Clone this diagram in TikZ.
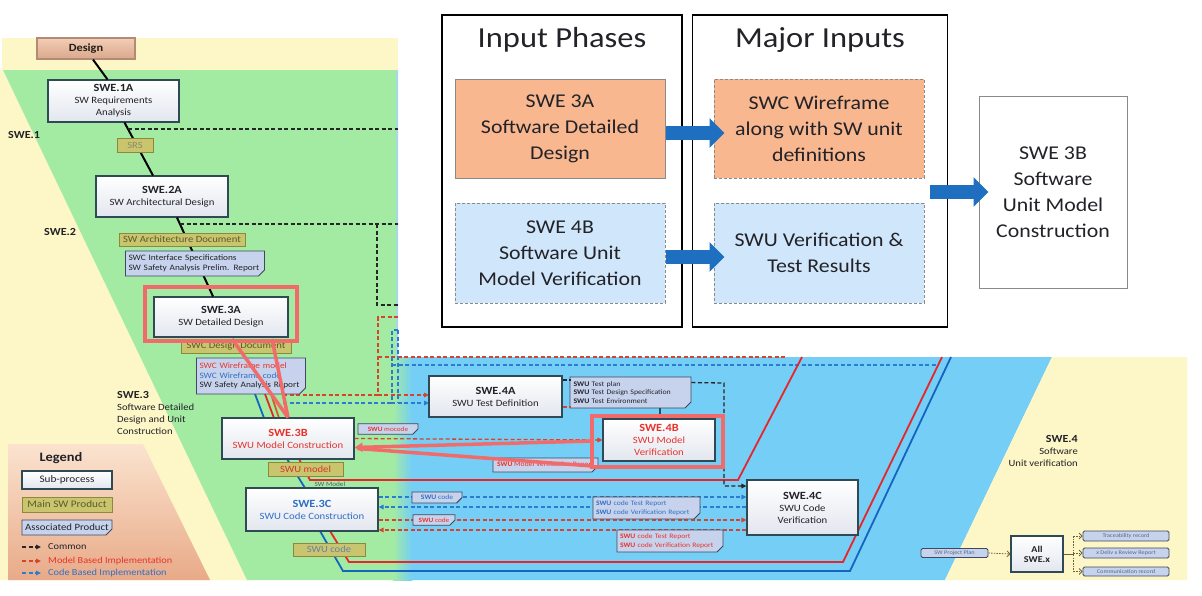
\documentclass[tikz,border=0pt]{standalone}
\usepackage{fontspec}
\setmainfont{Carlito}[FakeStretch=1.12]
\usetikzlibrary{arrows.meta,calc,shapes.misc}
\definecolor{grn}{HTML}{A3EBA3}
\definecolor{ylw}{HTML}{FDF6C6}
\definecolor{blu}{HTML}{74CEF5}
\definecolor{sky}{HTML}{A8D8E8}
\definecolor{subb}{HTML}{2F4A55}
\definecolor{subf}{HTML}{E2E6EE}
\definecolor{olf}{HTML}{C9C56E}
\definecolor{olb}{HTML}{8C8A3A}
\definecolor{olt}{HTML}{5C5A2A}
\definecolor{asf}{HTML}{C7D3EC}
\definecolor{asb}{HTML}{3E4860}
\definecolor{hl}{HTML}{F26B6B}
\definecolor{rdt}{HTML}{E8332B}
\definecolor{blt}{HTML}{2F6FC4}
\definecolor{cdt}{HTML}{6A80A8}
\definecolor{rdd}{HTML}{D4442E}
\definecolor{bld}{HTML}{2A7CD0}
\definecolor{rds}{HTML}{E8262A}
\definecolor{bls}{HTML}{1565C0}
\definecolor{ors}{HTML}{D06020}
\definecolor{txd}{HTML}{222228}
\definecolor{ovor}{HTML}{F8B78F}
\definecolor{ovbl}{HTML}{D0E6FA}
\definecolor{ovar}{HTML}{1F6FC1}
\definecolor{ovg}{HTML}{8A8A8A}
\definecolor{legt}{HTML}{FBE3CF}
\definecolor{legb}{HTML}{E8AA88}
\definecolor{dsgt}{HTML}{F2CDB6}
\definecolor{dsgb}{HTML}{D9A88C}
\definecolor{dsgd}{HTML}{B58A75}
\definecolor{olv}{HTML}{6E6234}
\newcommand\fsz[2]{\fontsize{#1}{#2}\selectfont}
\newcommand\ttl[1]{{\fsz{11}{12}\bfseries #1}}
\newcommand\ttlb[1]{{\fsz{10.8}{12}\bfseries #1}}
\begin{document}
\begin{tikzpicture}[x=1pt,y=-1pt,
  >={Triangle[length=5pt,width=4.5pt]},
  sub/.style={draw=subb,line width=1.1pt,top color=white,bottom color=subf,inner sep=0pt,align=center,text=txd,font=\fsz{9.6}{12}},
  mainp/.style={draw=olb,line width=0.9pt,fill=olf,inner sep=0pt,font=\fsz{9.5}{11},text=olt},
  assoc/.style={chamfered rectangle,chamfered rectangle corners=south east,chamfered rectangle sep=3pt,draw=asb,line width=0.9pt,fill=asf,inner sep=0pt,align=left,font=\fsz{8.3}{9.5},text=txd},
  smallb/.style={rounded corners=1.5pt,draw=asb,line width=0.8pt,fill=asf,inner sep=0pt,font=\fsz{5.6}{6},text=cdt!80!black},
  blk/.style={black!85,line width=1.3pt,dash pattern=on 4pt off 2.5pt},
  mdl/.style={rdd,line width=1.3pt,dash pattern=on 4pt off 2.5pt},
  cod/.style={bld,line width=1.3pt,dash pattern=on 4pt off 2.5pt},
  flow/.style={black,line width=2pt},
  sol/.style={line width=1.8pt},
  hll/.style={hl,line width=3.5pt},
  ovb/.style={minimum width=210pt,minimum height=99pt,align=center,font=\fsz{19.5}{26},inner sep=0pt,line width=1pt,text=txd},
  ovd/.style={draw=ovg,dash pattern=on 3pt off 2pt},
  fat/.style={ovar,line width=14pt,-{Triangle[length=15pt,width=29pt]}},
  olda/.style={olv,line width=0.8pt,dash pattern=on 1.5pt off 1.2pt,-{Straight Barb[length=3pt,width=6pt]}}
]
\useasboundingbox (0,0) rectangle (1202,595);
\fill[white] (0,0) rectangle (1202,595);
% ---------- background regions
\fill[ylw] (2,38) rectangle (398,70);
\fill[ylw] (0,70) -- (3,70) -- (247,580) -- (0,580) -- cycle;
\fill[grn] (3,70) -- (398,70) -- (398,580) -- (247,580) -- cycle;
\fill[blu] (398,357) -- (1052,357) -- (945,580) -- (398,580) -- cycle;
\shade[left color=grn,right color=blu] (393,357) rectangle (412,580);
\fill[ylw] (1052,357) -- (1187,357) -- (1187,580) -- (945,580) -- cycle;
\draw[sky,line width=1.5pt] (397,70) -- (397,357);
\shade[top color=legt,bottom color=legb] (8,444) -- (143,444) -- (210,580) -- (8,580) -- cycle;
% ---------- nodes (green area)
\node[sub,minimum width=98pt,minimum height=21pt,top color=dsgt,bottom color=dsgb,draw=dsgd,text=black!80!dsgd] (design) at (86,48.5) {\ttl{Design}};
\node[sub,minimum width=131pt,minimum height=42pt] (swe1a) at (113.5,101) {\ttl{SWE.1A}\\SW Requirements\\Analysis};
\node[sub,minimum width=132pt,minimum height=41pt] (swe2a) at (162,196.5) {\ttl{SWE.2A}\\SW Architectural Design};
\node[sub,minimum width=134pt,minimum height=40pt] (swe3a) at (221,317) {\ttl{SWE.3A}\\SW Detailed Design};
% flow line
\draw[flow] ($(design.south)+(7,0)$) -- ($(swe1a.north)+(-6,0)$);
\draw[flow] ($(swe1a.south)+(11,0)$) -- ($(swe2a.north)+(-9,0)$);
\draw[flow] ($(swe2a.south)+(15,0)$) -- ($(swe3a.north)+(-8,0)$);
% common dashed
\draw[blk] (128,129) -- (398,129);
\draw[blk] (180,224) -- (398,224);
\draw[blk] (377,224) -- (377,305) -- (398,305);
% model / code dashed
\draw[mdl,->] (398,317) -- (378,317) |- (429,395);
\draw[mdl] (283,395) -- (378,395);
\draw[mdl] (378,357) -- (787,357);
\draw[cod,->] (398,330) -- (392,330) |- (429,403);
\draw[cod] (398,330) -- (398,403);
\draw[cod] (283,403) -- (392,403);
\draw[cod] (392,365) -- (937,365);
% solid colored lines
\draw[sol,bls] (255,394) -- (264,418);
\draw[sol,rds] (265,394) -- (274,418);
\draw[sol,ors] (271,394) -- (279,418);
\draw[sol,bls] (287,459) -- (305,488);
\draw[sol,rds] (299,459) -- (310,480) -- (738,480) -- (802,357);
\draw[sol,bls] (320,531) -- (343,571) -- (850,571) -- (951,357);
\draw[sol,rds] (330,531) -- (349,562) -- (843,562) -- (942,357);
% products
\node[mainp,minimum width=36pt,minimum height=14pt,text=olt!70] (srs) at (135,145) {SRS};
\node[mainp,minimum width=126pt,minimum height=13pt] (swad) at (182,239.5) {SW Architecture Document};
\node[assoc,minimum width=138pt,minimum height=25pt,text width=133pt] (swcif) at (195,263.5) {SWC Interface Specifications\\SW Safety Analysis Prelim. Report};
\node[mainp,minimum width=110pt,minimum height=13pt] (swcdd) at (236,346.5) {SWC Design Document};
\node[assoc,minimum width=108pt,minimum height=36pt,text width=103pt] (swcwf) at (251,376) {{\color{rdt}SWC Wireframe model}\\{\color{blt}SWC Wireframe code}\\SW Safety Analysis Report};
\node[sub,minimum width=132pt,minimum height=41pt,text=rdt] (swe3b) at (288,438.5) {\ttl{SWE.3B}\\SWU Model Construction};
\node[mainp,minimum width=75pt,minimum height=14pt,text=rdt!85!olt] (swumodel) at (305.5,469) {SWU model};
\node[font=\fsz{6.5}{7},text=txd!75,inner sep=0pt] (swm) at (330,484) {SW Model};
\node[sub,minimum width=132pt,minimum height=43pt,text=blt] (swe3c) at (312,509.5) {\ttl{SWE.3C}\\SWU Code Construction};
\node[mainp,minimum width=72pt,minimum height=13pt,text=cdt] (swucode) at (329,549.5) {SWU code};
% ---------- blue area
\node[sub,minimum width=133pt,minimum height=41pt] (swe4a) at (495.5,396.5) {\ttl{SWE.4A}\\SWU Test Definition};
\node[assoc,minimum width=121pt,minimum height=31pt,text width=114pt,font=\fsz{7}{8.5}] (swutp) at (630.5,392.5) {\textbf{SWU} Test plan\\\textbf{SWU} Test Design Specification\\\textbf{SWU} Test Environment};
\node[sub,minimum width=112pt,minimum height=42pt,text=rdt] (swe4b) at (659,440) {\ttl{SWE.4B}\\SWU Model\\Verification};
\node[assoc,minimum width=60pt,minimum height=10pt,font=\fsz{6.5}{7},text=rdt] (swumoc) at (388,429) {\textbf{SWU} mocode};
\node[assoc,minimum width=105pt,minimum height=14pt,font=\fsz{6.8}{8},text=rdt] (swumvr) at (545.5,465) {\textbf{SWU} Model Verification Report};
\node[sub,minimum width=111pt,minimum height=55pt] (swe4c) at (802.5,507.5) {\ttl{SWE.4C}\\SWU Code\\Verification};
% connectors around SWE.4A / 4B / 4C
\draw[blk] ($(swe4a.east)+(0,-16.5)$) -- ++(8,0);
\draw[mdl] ($(swe4a.east)+(0,10.5)$) -- ++(8,0);
\draw[blk,->] ($(swutp.north east)+(0,6)$) -- (724,383) |- ($(swe4c.west)+(0,-21.5)$);
\draw[subb,line width=1.2pt] ($(swutp.south)+(29.5,0)$) -- ++(0,8);
\draw[mdl,->] (swe3b.east) -- (swe4b.west);
\coordinate (c1) at ($(swe3c.east)+(0,-12.5)$);
\coordinate (c2) at ($(swe3c.east)+(0,-2.5)$);
\coordinate (c3) at ($(swe3c.east)+(0,10.5)$);
\coordinate (c4) at ($(swe3c.east)+(0,20.5)$);
\draw[cod,->] (c1) -- (c1 -| swe4c.west);
\draw[cod,->] (c2 -| swe4c.west) -- (c2);
\draw[mdl,->] (c3) -- (c3 -| swe4c.west);
\draw[mdl,->] (c4 -| swe4c.west) -- (c4);
\node[assoc,minimum width=50pt,minimum height=11pt,font=\fsz{6.8}{8},text=blt] (swucb) at (437,497.5) {\textbf{SWU} code};
\node[assoc,minimum width=107pt,minimum height=22pt,text width=101pt,font=\fsz{6.8}{8.5},text=blt] (swctb) at (646.5,508) {\textbf{SWU} code Test Report\\\textbf{SWU} code Verification Report};
\node[assoc,minimum width=42pt,minimum height=10pt,font=\fsz{6.5}{7},text=rdt] (swucr) at (434,520) {\textbf{SWU} code};
\node[assoc,minimum width=106pt,minimum height=22pt,text width=100pt,font=\fsz{6.8}{8.5},text=rdt] (swctr) at (670,541) {\textbf{SWU} code Test Report\\\textbf{SWU} code Verification Report};
% ---------- highlights
\node[draw=hl,line width=3.5pt,minimum width=152pt,minimum height=54pt,inner sep=0pt] (hl3a) at (221,314) {};
\node[draw=hl,line width=3.5pt,minimum width=131pt,minimum height=51pt,inner sep=0pt] (hl4b) at (657.5,441.5) {};
\draw[hll] (232,339) -- (swe3b.north);
\draw[hll] (272,339) -- (swe3b.north);
\draw[hll] (592,466) -- ($(swe3b.east)+(3,10)$);
\draw[hll,-{Triangle[length=8pt,width=9pt]}] (592,441) -- ($(swe3b.east)+(0,9)$);
% ---------- bottom right
\node[smallb,minimum width=67pt,minimum height=9pt] (swpp) at (954.5,553) {SW Project Plan};
\node[sub,minimum width=52pt,minimum height=36pt,font=\fsz{9}{10}\bfseries] (allswe) at (1037,554) {All\\SWE.x};
\node[smallb,minimum width=86pt,minimum height=10pt] (trace) at (1126,536) {Traceability record};
\node[smallb,minimum width=86pt,minimum height=10pt] (deliv) at (1126,553) {x Deliv x Review Report};
\node[smallb,minimum width=86pt,minimum height=9pt] (comm) at (1126,571.5) {Communication record};
\draw[olda] (swpp.east) -- (allswe.west);
\draw[olv,line width=1pt] (allswe.east) -- ++(10,0) coordinate (br);
\draw[olv,line width=0.8pt,dash pattern=on 1.5pt off 1.2pt] (br |- trace.west) -- (br |- comm.west);
\draw[olda] (br |- trace.west) -- (trace.west);
\draw[olda] (br |- deliv.west) -- (deliv.west);
\draw[olda] (br |- comm.west) -- (comm.west);
% ---------- labels
\node[anchor=west,inner sep=0pt,font=\fsz{10.8}{12}\bfseries,text=txd] (l1) at (8,135) {SWE.1};
\node[anchor=west,inner sep=0pt,font=\fsz{10.8}{12}\bfseries,text=txd] (l2) at (44,232) {SWE.2};
\node[anchor=north west,inner sep=0pt,align=left,font=\fsz{9.5}{12},text=txd] (l3) at (117,391) {\ttlb{SWE.3}\\Software Detailed\\Design and Unit\\Construction};
\node[anchor=north east,inner sep=0pt,align=right,font=\fsz{9.5}{12},text=txd] (l4) at (1078,435) {\ttlb{SWE.4}\\Software\\Unit verification};
% ---------- legend
\node[font=\fsz{12.9}{14}\bfseries,text=txd] (legt) at (61,458) {Legend};
\node[sub,minimum width=90pt,minimum height=18pt,font=\fsz{10}{11}] (legsub) at (67,480) {Sub-process};
\node[mainp,minimum width=90pt,minimum height=15pt,font=\fsz{10}{11}] (legmain) at (67,504.5) {Main SW Product};
\node[assoc,minimum width=90pt,minimum height=15pt,font=\fsz{9.6}{11}] (legas) at (67,527.5) {Associated Product};
\node[anchor=west,inner sep=1pt,font=\fsz{9.2}{10},text=txd] (lgcom) at (47,547) {Common};
\node[anchor=west,inner sep=1pt,font=\fsz{9.2}{10},text=rdt] (lgmod) at (47,561) {Model Based Implementation};
\node[anchor=west,inner sep=1pt,font=\fsz{9.2}{10},text=blt] (lgcod) at (47,573) {Code Based Implementation};
\draw[blk,->] ($(lgcom.west)+(-25,0)$) -- ($(lgcom.west)+(-6,0)$);
\draw[mdl,->] ($(lgmod.west)+(-25,0)$) -- ($(lgmod.west)+(-6,0)$);
\draw[cod,->] ($(lgcod.west)+(-25,0)$) -- ($(lgcod.west)+(-6,0)$);
% ---------- overlay
\node[draw=black,line width=1.6pt,minimum width=240pt,minimum height=312pt,inner sep=0pt] (ovin) at (562,171) {};
\node[draw=black,line width=1.6pt,minimum width=255pt,minimum height=312pt,inner sep=0pt] (ovmj) at (820,171) {};
\node[font=\fsz{29}{32},text=txd] (ovint) at (562,40) {Input Phases};
\node[font=\fsz{29}{32},text=txd] (ovmjt) at (820,40) {Major Inputs};
\node[ovb,fill=ovor,draw=ovg] (ov3a) at (560,128.5) {SWE 3A\\Software Detailed\\Design};
\node[ovb,fill=ovbl,ovd,minimum height=100pt] (ov4b) at (560,253) {SWE 4B\\Software Unit\\Model Verification};
\node[ovb,fill=ovor,ovd] (ovwf) at (819,128.5) {SWC Wireframe\\along with SW unit\\definitions};
\node[ovb,fill=ovbl,ovd,minimum height=100pt] (ovsv) at (819,253) {SWU Verification \&\\Test Results};
\node[ovb,fill=white,draw=ovg,minimum width=148pt,minimum height=192pt] (ov3b) at (1053,192) {SWE 3B\\Software\\Unit Model\\Construction};
\draw[fat] ([yshift=-4.5pt]ov3a.east) -- ([yshift=-4.5pt,xshift=11pt]ovwf.west);
\draw[fat] ([yshift=-4pt]ov4b.east) -- ([yshift=-4pt,xshift=11pt]ovsv.west);
\draw[fat] ($(ov3b.west)+(-49,0)$) -- ([xshift=10pt]ov3b.west);
\end{tikzpicture}
\end{document}
